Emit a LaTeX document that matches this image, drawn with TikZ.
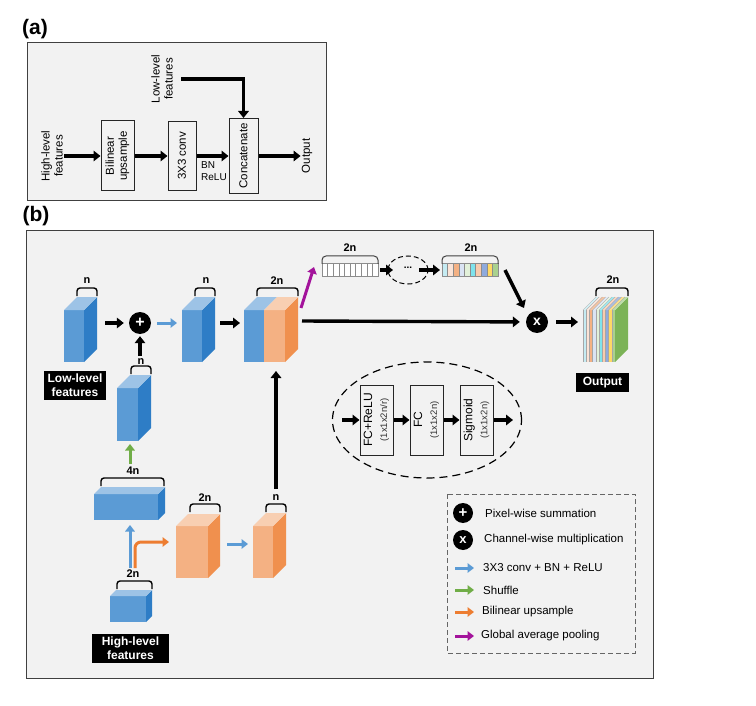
\documentclass[tikz,border=0pt]{standalone}
\usepackage{fontspec}
\setmainfont{Liberation Sans}
\usetikzlibrary{arrows.meta,shapes.geometric}
\definecolor{panelbg}{HTML}{F2F2F2}
\definecolor{bfront}{HTML}{5B9BD5}
\definecolor{bside}{HTML}{2E7DC6}
\definecolor{btop}{HTML}{9DC3E6}
\definecolor{ofront}{HTML}{F4B183}
\definecolor{oside}{HTML}{F0904E}
\definecolor{otop}{HTML}{F8CFB2}
\definecolor{arrblue}{HTML}{5B9BD5}
\definecolor{arrgreen}{HTML}{70AD47}
\definecolor{arrorange}{HTML}{ED7D31}
\definecolor{arrpurple}{HTML}{A3139B}
\definecolor{gside}{HTML}{7CB357}
\definecolor{sa}{HTML}{C5EBF2}
\definecolor{sb}{HTML}{FBE3D6}
\definecolor{sc}{HTML}{F4B183}
\definecolor{sd}{HTML}{DAE3F3}
\definecolor{se}{HTML}{E2F0D9}
\definecolor{sf}{HTML}{7FE3EC}
\definecolor{sg}{HTML}{F8CBAD}
\definecolor{sh}{HTML}{8FAADC}
\definecolor{si}{HTML}{FFD966}
\definecolor{sj}{HTML}{A9D18E}
\newcommand{\myfs}[1]{\fontsize{#1}{#1}\selectfont}
% x, y (top-left of front face), width, height, depth, front, side, top
\newcommand{\mycube}[8]{%
  \fill[#6] (#1,#2) rectangle ++(#3,#4);
  \fill[#7] ({#1+#3},#2) -- ++(#5,-#5) -- ++(0,#4) -- ++(-#5,#5) -- cycle;
  \fill[#8] (#1,#2) -- ++(#5,-#5) -- ++(#3,0) -- ++(-#5,#5) -- cycle;
}
% x1, x2, ybottom
\newcommand{\mybrace}[3]{%
  \draw[line width=1.4pt, rounded corners=3pt] (#1,#3) -- (#1,{#3-8}) -- (#2,{#3-8}) -- (#2,#3);
}
\begin{document}
\begin{tikzpicture}[x=1pt,y=-1pt,
  title/.style={font=\bfseries\myfs{21}, inner sep=0pt},
  panel/.style={draw=black!75, line width=1pt, fill=panelbg},
  txt/.style={font=\fontsize{11.5}{13}\selectfont, align=center, inner sep=1pt},
  rtxt/.style={txt, rotate=90},
  abox/.style={draw=black!85, line width=1pt, rotate=90, align=center, inner sep=0pt, font=\fontsize{11.5}{13}\selectfont},
  arr/.style={line width=3.4pt, -{Triangle[length=7pt,width=10.5pt]}},
  barr/.style={line width=3pt, color=arrblue, -{Triangle[length=6.5pt,width=9.5pt]}},
  garr/.style={line width=3pt, color=arrgreen, -{Triangle[length=6.5pt,width=9.5pt]}},
  oarr/.style={line width=3pt, color=arrorange, -{Triangle[length=6.5pt,width=9.5pt]}},
  parr/.style={line width=3pt, color=arrpurple, -{Triangle[length=6.5pt,width=9.5pt]}},
  dim/.style={font=\bfseries\myfs{11}, inner sep=0pt},
  blab/.style={fill=black, text=white, font=\bfseries\fontsize{12}{14}\selectfont, align=center, inner sep=0pt},
  opc/.style={circle, fill=black, inner sep=0pt, text=white},
  fcbox/.style={draw=black!85, line width=1pt, rotate=90, align=center, inner sep=0pt, minimum width=70pt, minimum height=33pt},
  leg/.style={font=\myfs{11.5}, anchor=west, inner sep=0pt}
]
\useasboundingbox (0,0) rectangle (756,706);
% ================= (a) =================
\node[title] (ta) at (35,29) {(a)};
\draw[panel] (27,43) rectangle (326,201);
\node[rtxt] (hl) at (52,156) {High-level\\features};
\node[abox, minimum width=70pt, minimum height=33pt] (bu) at (117.5,156) {Bilinear\\upsample};
\node[abox, minimum width=69pt, minimum height=28pt] (cv) at (182,156) {3X3 conv};
\node[abox, minimum width=75pt, minimum height=29pt] (cc) at (243.5,156) {Concatenate};
\node[rtxt] (out) at (307,156) {Output};
\node[rtxt] (ll) at (162,79) {Low-level\\features};
\node[font=\fontsize{10}{12.5}\selectfont, align=left, anchor=west, inner sep=0pt] (bn) at (201,171) {BN\\ReLU};
\coordinate (llstart) at (181,79);
\draw[arr] (hl) -- (bu);
\draw[arr] (bu) -- (cv);
\draw[arr] (cv) -- (cc);
\draw[arr] (cc) -- (out);
\draw[arr] (llstart) -| (cc.east);
% ================= (b) =================
\node[title] (tb) at (36,216) {(b)};
\draw[panel] (26,231) rectangle (653,678);
% low-level cube
\mycube{64}{310}{20}{52}{13}{bfront}{bside}{btop}
\mybrace{77}{97}{296}
\node[dim] (n1) at (87,281) {n};
\node[blab, minimum width=62pt, minimum height=29pt] (llb) at (75,385.5) {Low-level\\features};
% plus
\node[opc, minimum size=22pt, font=\bfseries\myfs{16}] (plus) at (140,323) {+};
\coordinate (c1r) at (105,323);
\draw[arr, shorten >=5pt] (c1r) -- (plus);
\coordinate (c2l) at (177,323);
\draw[barr, shorten <=6pt] (plus) -- (c2l);
% cube 2
\mycube{182}{310}{20}{52}{13}{bfront}{bside}{btop}
\mybrace{195}{215}{296}
\node[dim] (n2) at (206,281) {n};
\coordinate (c2r) at (220,323);
\coordinate (c3l) at (240,323);
\draw[arr] (c2r) -- (c3l);
% cube 3 (concat)
\fill[bfront] (244,310) rectangle (264,362);
\fill[ofront] (264,310) rectangle (285,362);
\fill[oside] (285,310) -- ++(13,-13) -- ++(0,52) -- ++(-13,13) -- cycle;
\fill[btop] (244,310) -- (257,297) -- (277,297) -- (264,310) -- cycle;
\fill[otop] (264,310) -- (277,297) -- (298,297) -- (285,310) -- cycle;
\mybrace{257}{298}{296}
\node[dim] (n3) at (277,281) {2n};
% purple (GAP)
\coordinate (p1) at (301,308);
\coordinate (p2) at (314,267);
\draw[parr] (p1) -- (p2);
% vector 1
\foreach \i in {0,...,9} {\draw[black!45, fill=white, line width=0.6pt] ({322+\i*5.6},263) rectangle ++(5.6,13);}
\draw[line width=1pt, black!75, rounded corners=4pt] (322,264) -- (322,256) -- (378,256) -- (378,264);
\node[dim] (n4) at (350,248) {2n};
% small ellipse
\node[draw, dashed, dash pattern=on 5pt off 3pt, line width=1pt, ellipse, minimum width=40pt, minimum height=28pt, inner sep=0pt] (sel) at (408,270) {};
\node[font=\bfseries\myfs{10}, inner sep=0pt] (dots) at (408,268) {...};
\coordinate (v1r) at (380,270);
\coordinate (e1) at (393,270);
\coordinate (e2) at (419,270);
\coordinate (v2l) at (440,270);
\draw[arr] (v1r) -- (e1);
\draw[arr] (e2) -- (v2l);
% vector 2
\foreach \c [count=\i from 0] in {sa,sb,sc,sd,se,sf,sg,sh,si,sj} {\draw[black!45, fill=\c, line width=0.6pt] ({442+\i*5.6},263) rectangle ++(5.6,13);}
\draw[line width=1pt, black!75, rounded corners=4pt] (442,264) -- (442,256) -- (498,256) -- (498,264);
\node[dim] (n5) at (471,248) {2n};
% multiplication
\node[opc, minimum size=22pt, font=\bfseries\myfs{14}] (mult) at (537,322) {x};
\coordinate (v2o) at (505,270);
\coordinate (m1) at (524,308);
\draw[arr] (v2o) -- (m1);
\coordinate (c3r) at (302,321);
\draw[arr, shorten >=6pt] (c3r) -- (mult);
\coordinate (ocl) at (578,322);
\draw[arr, shorten <=8pt] (mult) -- (ocl);
% output cube
\fill[gside] (615,310) -- ++(13,-13) -- ++(0,52) -- ++(-13,13) -- cycle;
\foreach \c [count=\i from 0] in {sa,sb,sc,sd,se,sf,sg,sh,si,sj} {
  \fill[\c] ({583+\i*3.2},310) rectangle ++(3.2,52);
  \fill[\c!75!white] ({583+\i*3.2},310) -- ++(13,-13) -- ++(3.2,0) -- ++(-13,13) -- cycle;
  \draw[black!35, line width=0.3pt] ({583+\i*3.2},310) -- ++(0,52);
  \draw[black!35, line width=0.3pt] ({583+\i*3.2},310) -- ++(13,-13);
}
\mybrace{596}{628}{296}
\node[dim] (n6) at (613,280) {2n};
\node[blab, minimum width=53pt, minimum height=19pt] (outb) at (602.5,382.5) {Output};
% shuffle-result cube
\mycube{117}{388}{21}{53}{13}{bfront}{bside}{btop}
\mybrace{131}{151}{374}
\node[dim] (n7) at (141,362) {n};
\coordinate (c7t) at (140,356);
\draw[arr, shorten >=2pt] (c7t) -- (plus);
% green shuffle arrow
\coordinate (g1) at (130,464);
\coordinate (g2) at (130,444);
\draw[garr] (g1) -- (g2);
% 4n cube
\mycube{94}{494}{64}{26}{7}{bfront}{bside}{btop}
\mybrace{101}{164}{486}
\node[dim] (n8) at (133,471) {4n};
% arrows from high-level cube
\coordinate (h1) at (130,568);
\coordinate (h2) at (130,525);
\draw[barr] (h1) -- (h2);
\coordinate (o1) at (135,568);
\coordinate (o2) at (169,542);
\draw[oarr, rounded corners=6pt] (o1) |- (o2);
% high-level cube
\mycube{110}{596}{36}{26}{6}{bfront}{bside}{btop}
\mybrace{117}{152}{589}
\node[dim] (n9) at (133,574) {2n};
\node[blab, minimum width=77pt, minimum height=29pt] (hlb) at (130.5,648.5) {High-level\\features};
% orange big cube
\mycube{176}{526}{32}{52}{12}{ofront}{oside}{otop}
\mybrace{190}{220}{512}
\node[dim] (n10) at (205,498) {2n};
\coordinate (ob1) at (227,544);
\coordinate (ob2) at (248,544);
\draw[barr] (ob1) -- (ob2);
% orange small cube
\mycube{253}{526}{20}{52}{13}{ofront}{oside}{otop}
\mybrace{266}{286}{512}
\node[dim] (n11) at (276,498) {n};
\coordinate (u1) at (276,489);
\coordinate (u2) at (276,371);
\draw[arr] (u1) -- (u2);
% big dashed ellipse with FC chain
\node[draw, dashed, dash pattern=on 8pt off 5pt, line width=1.2pt, ellipse, minimum width=189pt, minimum height=116pt, inner sep=0pt] (bel) at (427,420) {};
\node[fcbox] (fc1) at (376.5,420) {\myfs{12}FC+ReLU\\[3pt]\textcolor{black!80}{\myfs{9.5}(1x1x2n/r)}};
\node[fcbox] (fc2) at (426.5,420) {\myfs{12}FC\\[3pt]\textcolor{black!80}{\myfs{9.5}(1x1x2n)}};
\node[fcbox] (fc3) at (476.5,420) {\myfs{12}Sigmoid\\[3pt]\textcolor{black!80}{\myfs{9.5}(1x1x2n)}};
\coordinate (fin) at (342,420);
\coordinate (fout) at (513,420);
\draw[arr] (fin) -- (fc1);
\draw[arr] (fc1) -- (fc2);
\draw[arr] (fc2) -- (fc3);
\draw[arr] (fc3) -- (fout);
% legend
\draw[black!60, dashed, dash pattern=on 5pt off 3pt, line width=1pt] (447,494) rectangle (635,653);
\node[opc, minimum size=20pt, font=\bfseries\myfs{15}] (lplus) at (463,513) {+};
\node[opc, minimum size=20pt, font=\bfseries\myfs{13}] (lmult) at (463,540) {x};
\node[leg] (t1) at (485,513) {Pixel-wise summation};
\node[leg] (t2) at (484,540) {Channel-wise multiplication};
\node[leg] (t3) at (483,568) {3X3 conv + BN + ReLU};
\node[leg] (t4) at (483,590) {Shuffle};
\node[leg] (t5) at (482,612) {Bilinear upsample};
\node[leg] (t6) at (481,636) {Global average pooling};
\coordinate (la1) at (455,568); \coordinate (lb1) at (474,568);
\coordinate (la2) at (455,590); \coordinate (lb2) at (474,590);
\coordinate (la3) at (455,612); \coordinate (lb3) at (474,612);
\coordinate (la4) at (455,636); \coordinate (lb4) at (474,636);
\draw[barr] (la1) -- (lb1);
\draw[garr] (la2) -- (lb2);
\draw[oarr] (la3) -- (lb3);
\draw[parr] (la4) -- (lb4);
\end{tikzpicture}
\end{document}
